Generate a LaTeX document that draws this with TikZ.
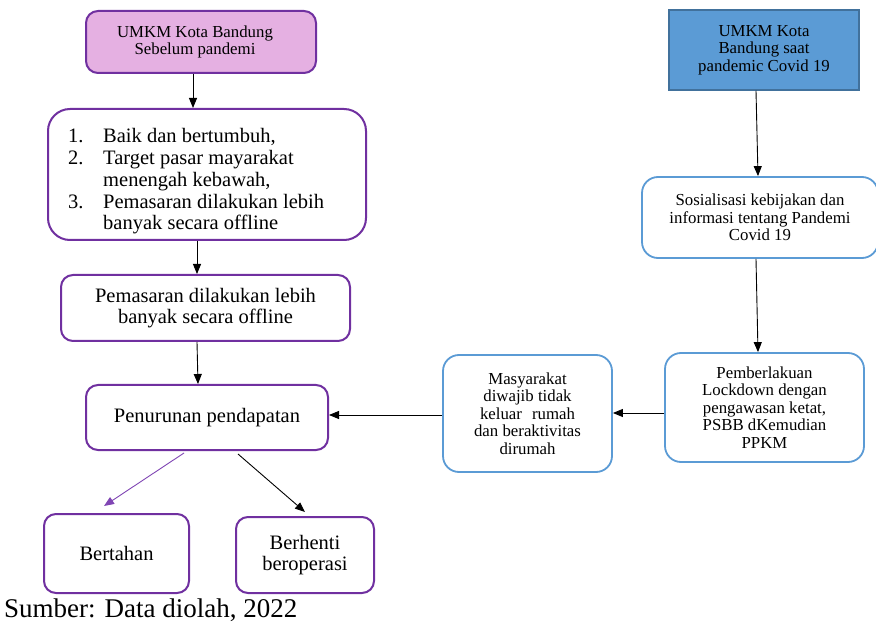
\documentclass[tikz,border=0pt]{standalone}
\usepackage{fontspec}
\setmainfont{Liberation Serif}
\usetikzlibrary{arrows.meta}
\definecolor{purp}{RGB}{112,48,160}
\definecolor{pinkfill}{RGB}{229,176,226}
\definecolor{bluefill}{RGB}{91,155,213}
\definecolor{blueedge}{RGB}{65,113,156}
\definecolor{blueline}{RGB}{91,155,213}
\definecolor{arrpurp}{RGB}{128,70,180}
\begin{document}
\begin{tikzpicture}[x=1pt,y=-1pt,
  pbox/.style={draw=purp,line width=2pt,rounded corners=12pt,align=center,inner sep=0pt},
  bbox/.style={draw=blueline,line width=1.8pt,rounded corners=16pt,align=center,inner sep=0pt},
  arr/.style={-{Triangle[length=10pt,width=8pt]},line width=0.9pt},
  big/.style={font=\fontsize{20.5}{21.7}\selectfont},
  small/.style={font=\fontsize{16.8}{17.4}\selectfont}]
\useasboundingbox (0,0) rectangle (876,628);
\fill[white] (0,0) rectangle (876,628);

% left column
\node[pbox,fill=pinkfill,small,minimum width=230pt,minimum height=62pt] (b1) at (201,42)
  {UMKM Kota Bandung\hspace*{12pt}\\Sebelum pandemi\hspace*{12pt}};
\node[pbox,rounded corners=22pt,minimum width=318pt,minimum height=131pt] (b2) at (207,174.5) {};
\node[big,anchor=west,inner sep=0pt] (b2t) at (68,182)
  {\begin{tabular}{@{}p{35pt}@{}l@{}}
   1. & Baik dan bertumbuh,\\
   2. & Target pasar mayarakat\\
      & menengah kebawah,\\
   3. & Pemasaran dilakukan lebih\\
      & banyak secara offline
   \end{tabular}};
\node[pbox,big,minimum width=289pt,minimum height=66pt] (b3) at (205.5,308)
  {Pemasaran dilakukan lebih\\banyak secara offline};
\node[pbox,big,minimum width=242pt,minimum height=65pt] (b4) at (207,417.5)
  {Penurunan pendapatan};
\node[pbox,big,minimum width=145pt,minimum height=79pt] (b5) at (116.5,553.5)
  {Bertahan};
\node[pbox,big,minimum width=138pt,minimum height=76pt] (b6) at (305,555)
  {Berhenti\\beroperasi};

% right column
\node[draw=blueedge,fill=bluefill,line width=1.5pt,align=center,inner sep=0pt,small,
  minimum width=190pt,minimum height=80pt] (r1) at (764,50)
  {UMKM Kota\\Bandung saat\\pandemic Covid 19};
\node[bbox,small,minimum width=236pt,minimum height=81pt] (r2) at (760,217.5)
  {Sosialisasi kebijakan dan\\informasi tentang Pandemi\\Covid 19};
\node[bbox,small,minimum width=199pt,minimum height=109pt] (r3) at (764.5,407.5)
  {Pemberlakuan\\Lockdown dengan\\pengawasan ketat,\\PSBB dKemudian\\PPKM};
\node[bbox,small,minimum width=169pt,minimum height=117pt] (r4) at (527.5,413.5)
  {Masyarakat\\diwajib tidak\\keluar\hspace{0.6em}rumah\\dan beraktivitas\\dirumah};

% caption
\node[anchor=west,inner sep=0pt,font=\fontsize{27}{29}\selectfont] (cap) at (4,610)
  {Sumber: Data diolah, 2022};

% arrows
\draw[arr] ([xshift=-8pt]b1.south) -- ([xshift=-14pt]b2.north);
\draw[arr] ([xshift=-10pt]b2.south) -- ([xshift=-8.5pt]b3.north);
\draw[arr] ([xshift=-8.5pt]b3.south) -- ([xshift=-9pt]b4.north);
\draw[arr] ([xshift=-8pt]r1.south) -- ([xshift=-2pt]r2.north);
\draw[arr] ([xshift=-4pt]r2.south) -- ([xshift=-6.5pt]r3.north);
\draw[arr] ([yshift=-5.5pt]r3.west) -- ([yshift=-5.5pt]r3.west -| r4.east);
\draw[arr] ([yshift=-1.5pt]r4.west) -- ([yshift=-1.5pt]r4.west -| b4.east);
\draw[arr,draw=arrpurp,-{Triangle[length=10pt,width=8pt,fill=arrpurp]}]
  ([xshift=-23pt,yshift=-2pt]b4.south) -- ([xshift=-12.5pt,yshift=7pt]b5.north);
\draw[arr] ([xshift=31pt,yshift=-3pt]b4.south) -- ([yshift=4pt]b6.north);
\end{tikzpicture}
\end{document}
